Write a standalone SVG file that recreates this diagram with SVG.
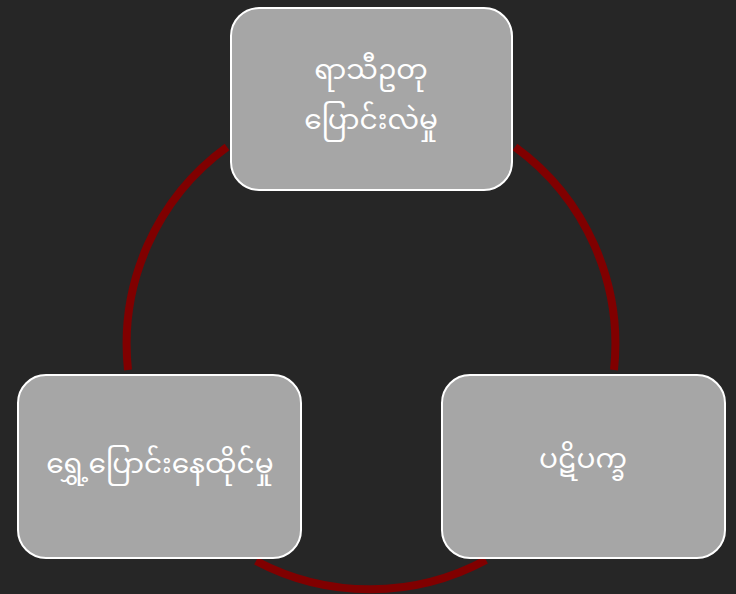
<svg xmlns="http://www.w3.org/2000/svg" width="736" height="594" viewBox="0 0 736 594">
<style>
.box{fill:#a6a6a6;stroke:#ffffff;stroke-width:2}
.lbl{fill:#ffffff;font-family:"Noto Sans Myanmar","Padauk","Myanmar Text","Noto Sans",sans-serif;font-size:28px;text-anchor:middle;dominant-baseline:central}
.arc{fill:none;stroke:#800000;stroke-width:8}
</style>
<rect width="736" height="594" fill="#262626"/>
<g id="connectors">
<path class="arc" d="M128,370 A244,244 0 0 1 227,147"/>
<path class="arc" d="M515,147 A244,244 0 0 1 614,370"/>
<path class="arc" d="M486,560 A244,244 0 0 1 256,561"/>
</g>
<g id="node-top">
<rect class="box" x="231" y="8" width="281" height="182" rx="28"/>
<text class="lbl"><tspan x="371" y="72">ရာသီဥတု</tspan><tspan x="371" y="122">ပြောင်းလဲမှု</tspan></text>
</g>
<g id="node-right">
<rect class="box" x="442" y="375" width="283" height="183" rx="28"/>
<text class="lbl" x="583" y="461">ပဋိပက္ခ</text>
</g>
<g id="node-left">
<rect class="box" x="18" y="375" width="283" height="183" rx="28"/>
<text class="lbl" x="160" y="466">ရွှေ့ပြောင်းနေထိုင်မှု</text>
</g>
</svg>
